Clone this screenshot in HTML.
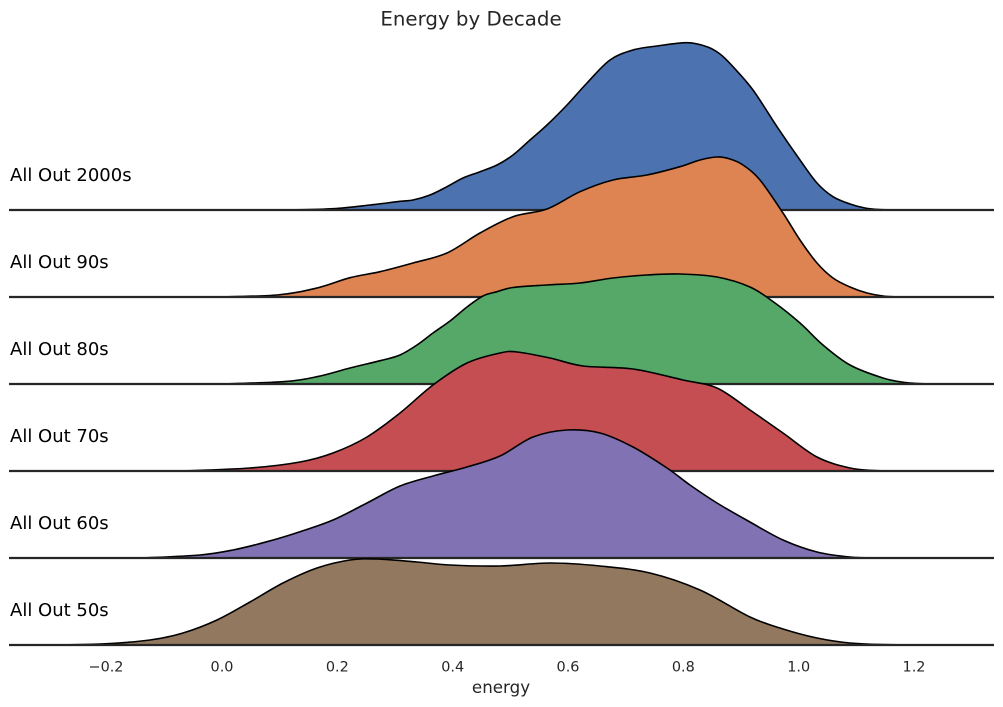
<!DOCTYPE html>
<html>
<head>
<meta charset="utf-8">
<style>
  html,body{margin:0;padding:0;background:#fff;}
  svg{display:block;}
  text{font-family:"DejaVu Sans","Liberation Sans",sans-serif;}
</style>
</head>
<body>
<svg width="1003" height="707" viewBox="0 0 1003 707" xmlns="http://www.w3.org/2000/svg">
  <rect x="0" y="0" width="1003" height="707" fill="#ffffff"/>

  <!-- 2000s -->
  <path class="kde" d="M287,210 L333,208.7 L370,205 L400,201.3 L413,200 L430,195 L447,186.7 L463,178 L480,171.7 L497,165 L513,155 L530,140 L547,125 L567,105 L587,83 L610,60 L633,50 L657,46 L687,42.7 L707,46.7 L720,54 L733,66.7 L753,90 L777,126.7 L800,160 L817,183 L833,196.7 L850,204 L865,208 L880,209.6 L895,210 Z" fill="#4C72B0" stroke="#000" stroke-width="1.6" stroke-linejoin="round"/>
  <line x1="9" y1="210" x2="994" y2="210" stroke="#262626" stroke-width="2.2"/>
  <text x="10" y="181" font-size="18" fill="#000">All Out 2000s</text>

  <!-- 90s -->
  <path class="kde" d="M215,297 L277,295 L317,288 L350,277.7 L380,271.7 L413,263 L447,253 L480,233 L513,216.7 L547,209 L580,191.7 L613,180 L647,175 L680,166.7 L700,160 L717,157 L730,159 L743,165 L760,180 L783,213 L800,240 L817,263 L833,278 L850,287 L867,293 L885,296.3 L905,297 Z" fill="#DD8452" stroke="#000" stroke-width="1.6" stroke-linejoin="round"/>
  <line x1="9" y1="297" x2="994" y2="297" stroke="#262626" stroke-width="2.2"/>
  <text x="10" y="268" font-size="18" fill="#000">All Out 90s</text>

  <!-- 80s -->
  <path class="kde" d="M220,384 L283,381.7 L317,376.7 L350,368 L383,360 L400,355 L417,345 L433,333 L450,321 L467,307 L483,296 L497,291.7 L513,287.5 L547,285 L580,283 L613,278 L647,275 L680,274 L717,277 L750,287 L775,303 L800,323 L823,345 L850,365 L883,378 L905,382.5 L930,384 Z" fill="#55A868" stroke="#000" stroke-width="1.6" stroke-linejoin="round"/>
  <line x1="9" y1="384" x2="994" y2="384" stroke="#262626" stroke-width="2.2"/>
  <text x="10" y="355" font-size="18" fill="#000">All Out 80s</text>

  <!-- 70s -->
  <path class="kde" d="M180,471 L250,468 L300,462 L333,453 L367,437 L400,413 L433,385 L467,363 L500,353 L517,352 L550,358 L583,366 L633,369 L683,380 L717,388 L750,410 L783,433 L817,457 L850,468 L875,470.5 L900,471 Z" fill="#C44E52" stroke="#000" stroke-width="1.6" stroke-linejoin="round"/>
  <line x1="9" y1="471" x2="994" y2="471" stroke="#262626" stroke-width="2.2"/>
  <text x="10" y="442" font-size="18" fill="#000">All Out 70s</text>

  <!-- 60s -->
  <path class="kde" d="M143,558 L200,555 L233,550 L267,541.7 L300,531.7 L333,520 L367,503 L400,486 L433,476 L467,467 L500,456 L533,437 L567,430 L600,433 L633,447 L667,468 L690,485 L717,503 L750,522 L783,540 L817,552 L850,557 L880,558 L910,558 Z" fill="#8172B3" stroke="#000" stroke-width="1.6" stroke-linejoin="round"/>
  <line x1="9" y1="558" x2="994" y2="558" stroke="#262626" stroke-width="2.2"/>
  <text x="10" y="529" font-size="18" fill="#000">All Out 60s</text>

  <!-- 50s -->
  <path class="kde" d="M40,645 L100,644 L150,640 L183,633 L217,620 L250,602 L283,583 L317,568 L350,560 L377,559 L417,562 L450,565 L500,566 L550,563 L600,566 L650,573 L700,590 L750,617 L783,629 L817,638 L850,643 L890,644.7 L950,645 Z" fill="#937860" stroke="#000" stroke-width="1.6" stroke-linejoin="round"/>
  <line x1="9" y1="645" x2="994" y2="645" stroke="#262626" stroke-width="2.2"/>
  <text x="10" y="616" font-size="18" fill="#000">All Out 50s</text>

  <!-- title -->
  <text x="471" y="25.5" font-size="19.8" fill="#262626" text-anchor="middle">Energy by Decade</text>

  <!-- ticks -->
  <g font-size="14.4" fill="#262626" text-anchor="middle">
    <text x="106" y="671.5">−0.2</text>
    <text x="222" y="671.5">0.0</text>
    <text x="337.3" y="671.5">0.2</text>
    <text x="452.7" y="671.5">0.4</text>
    <text x="568" y="671.5">0.6</text>
    <text x="683.3" y="671.5">0.8</text>
    <text x="798.7" y="671.5">1.0</text>
    <text x="914" y="671.5">1.2</text>
  </g>
  <text x="501" y="693" font-size="16.7" fill="#262626" text-anchor="middle">energy</text>
</svg>
<script>
(function(){
  var paths = document.querySelectorAll('path.kde');
  for (var k = 0; k < paths.length; k++) {
    var p = paths[k];
    var d = p.getAttribute('d').replace(/[MLZ]/g,' ').trim().split(/\s+/);
    var pts = [];
    for (var i = 0; i < d.length; i++) {
      var c = d[i].split(',');
      if (c.length === 2) pts.push([parseFloat(c[0]), parseFloat(c[1])]);
    }
    if (pts.length < 3) continue;
    var n = pts.length;
    var out = 'M' + pts[0][0] + ',' + pts[0][1];
    for (var j = 0; j < n - 1; j++) {
      var p0 = pts[j > 0 ? j - 1 : j];
      var p1 = pts[j];
      var p2 = pts[j + 1];
      var p3 = pts[j + 2 < n ? j + 2 : j + 1];
      var c1x = p1[0] + (p2[0] - p0[0]) / 6;
      var c1y = p1[1] + (p2[1] - p0[1]) / 6;
      var c2x = p2[0] - (p3[0] - p1[0]) / 6;
      var c2y = p2[1] - (p3[1] - p1[1]) / 6;
      out += ' C' + c1x.toFixed(2) + ',' + c1y.toFixed(2) + ' ' + c2x.toFixed(2) + ',' + c2y.toFixed(2) + ' ' + p2[0] + ',' + p2[1];
    }
    out += ' Z';
    p.setAttribute('d', out);
  }
})();
</script>
</body>
</html>
